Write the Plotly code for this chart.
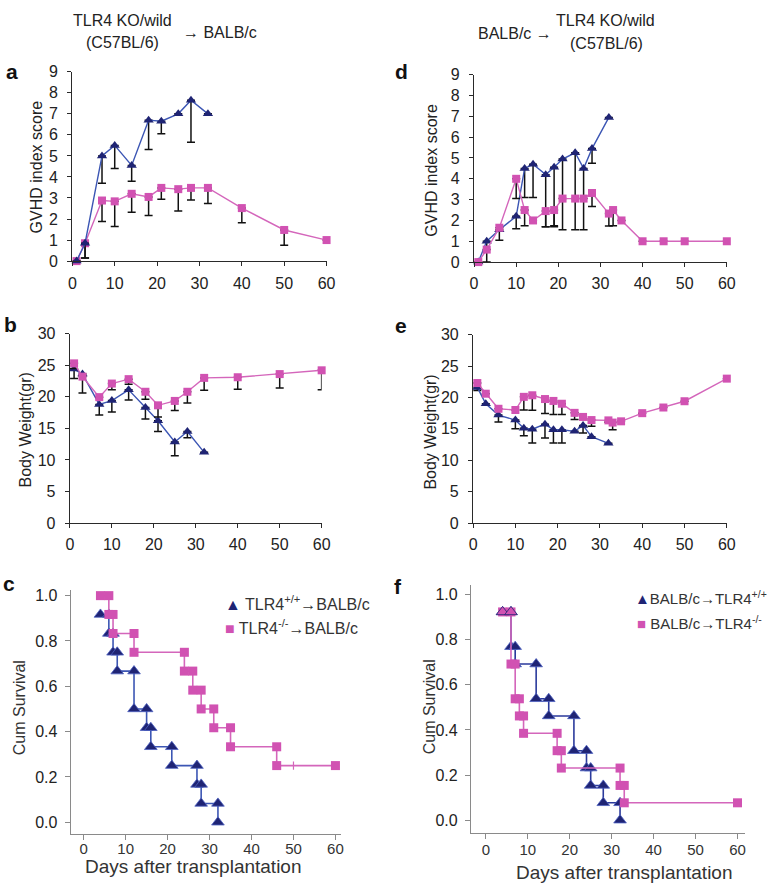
import plotly.graph_objects as go

# ---------------- data ----------------
# Panel a: GVHD index score, TLR4 KO/wild (C57BL/6) -> BALB/c
a_days_wt = [1, 3, 7, 10, 14, 18, 21, 25, 28, 32]
a_score_wt = [0, 0.85, 5.0, 5.5, 4.55, 6.7, 6.65, 7.0, 7.65, 7.0]
a_err_wt = [0, 0.7, 1.3, 1.1, 0.75, 1.4, 0.6, 0, 2.0, 0]
a_days_ko = [1, 3, 7, 10, 14, 18, 21, 25, 28, 32, 40, 50, 60]
a_score_ko = [0, 0.85, 2.88, 2.84, 3.2, 3.05, 3.48, 3.42, 3.48, 3.48, 2.52, 1.48, 1.0]
a_err_ko = [0, 0.7, 1.0, 1.2, 0.88, 0.88, 0.54, 1.04, 0.58, 0.74, 0.7, 0.73, 0]

# Panel b: body weight
b_days_wt = [1, 3, 7, 10, 14, 18, 21, 25, 28, 32]
b_wt_wt = [24.4, 23.6, 18.8, 19.4, 21.1, 18.3, 16.2, 12.85, 14.5, 11.2]
b_err_wt = [1.5, 0, 1.7, 1.8, 1.6, 1.8, 1.7, 2.2, 1.0, 0]
b_days_ko = [1, 3, 7, 10, 14, 18, 21, 25, 28, 32, 40, 50, 60]
b_wt_ko = [25.3, 23.2, 19.95, 22.1, 22.8, 20.8, 18.65, 19.35, 20.8, 23.0, 23.1, 23.6, 24.2]
b_err_ko = [0.8, 2.6, 0, 1.0, 0.8, 1.2, 1.85, 1.5, 1.8, 1.95, 1.9, 2.2, 3.1]

# Panel d: GVHD index score, BALB/c -> TLR4 KO/wild (C57BL/6)
d_days_wt = [1, 3, 6, 10, 12, 14, 17, 19, 21, 24, 26, 28, 32]
d_score_wt = [0, 1.0, 1.55, 2.2, 4.5, 4.7, 4.2, 4.55, 4.95, 5.25, 4.5, 5.45, 6.95]
d_err_wt = [0, 1.0, 0.5, 0.6, 1.4, 1.6, 2.5, 2.85, 3.4, 3.7, 2.95, 0.7, 0]
d_days_ko = [1, 3, 6, 10, 12, 14, 17, 19, 21, 24, 26, 28, 32, 33, 35, 40, 45, 50, 60]
d_score_ko = [0, 0.6, 1.65, 4.0, 2.5, 2.0, 2.45, 2.5, 3.05, 3.05, 3.05, 3.32, 2.33, 2.5, 2.0, 1.0, 1.0, 1.0, 1.0]
d_err_ko = [0, 0, 0, 0.95, 0.75, 0, 0.75, 0.75, 0, 0, 0, 0.65, 0.6, 0.75, 0, 0, 0, 0, 0]

# Panel e: body weight
e_days_wt = [1, 3, 6, 10, 12, 14, 17, 19, 21, 24, 26, 28, 32]
e_wt_wt = [21.6, 19.0, 17.2, 16.4, 15.1, 14.95, 15.75, 14.85, 14.85, 14.6, 15.55, 13.75, 12.7]
e_err_wt = [0.5, 0, 1.1, 1.4, 1.2, 2.2, 2.2, 2.1, 2.1, 0, 1.2, 0, 0]
e_days_ko = [1, 3, 6, 10, 12, 14, 17, 19, 21, 24, 26, 28, 32, 33, 35, 40, 45, 50, 60]
e_wt_ko = [22.3, 20.6, 18.2, 18.0, 20.1, 20.35, 19.75, 19.45, 19.0, 17.55, 16.9, 16.4, 16.35, 16.0, 16.2, 17.5, 18.4, 19.4, 23.0]
e_err_ko = [0, 0, 0, 0, 2.1, 2.4, 2.3, 2.15, 1.7, 1.05, 0, 1.0, 0.3, 1.15, 0, 0, 0, 0, 0]

# Panel c: Kaplan-Meier (event times and survival after each event)
c_times_wt = [4, 6, 7, 8, 12, 15, 16, 21, 27, 28, 32]
c_surv_wt = [0.917, 0.833, 0.75, 0.667, 0.5, 0.417, 0.333, 0.25, 0.167, 0.083, 0.0]
c_times_ko = [4, 6, 7, 12, 24, 26, 28, 31, 35, 46]
c_surv_ko = [1.0, 0.917, 0.833, 0.75, 0.667, 0.583, 0.5, 0.417, 0.333, 0.25]
c_end_ko = 60
c_censor_ko = [50]

# Panel f: Kaplan-Meier
f_times_wt = [4, 6, 7, 12, 15, 21, 24, 25, 28, 32]
f_surv_wt = [0.923, 0.769, 0.692, 0.538, 0.462, 0.308, 0.231, 0.154, 0.077, 0.0]
f_times_ko = [4, 6, 7, 8, 9, 17, 18, 32, 33]
f_surv_ko = [0.923, 0.692, 0.538, 0.462, 0.385, 0.308, 0.231, 0.154, 0.077]
f_end_ko = 60

day_ticks = [0, 10, 20, 30, 40, 50, 60]
score_ticks = list(range(0, 10))
weight_ticks = [0, 5, 10, 15, 20, 25, 30]
surv_ticks = [0.0, 0.2, 0.4, 0.6, 0.8, 1.0]

# ---------------- style ----------------
W, H = 784, 896
FONT = "Liberation Sans, Arial, sans-serif"
BLUE_M = "#1f2474"
BLUE_L = "#3c56b4"
PINK_M = "#d152b2"
PINK_L = "#d466bb"


def px_x(p):
    return p / W


def px_y(p):
    return 1 - p / H


def km_vertices(times, surv, end=None):
    xs, ys = [times[0]], [surv[0]]
    for i in range(1, len(times)):
        xs += [times[i], times[i]]
        ys += [surv[i - 1], surv[i]]
    if end is not None:
        xs.append(end)
        ys.append(surv[-1])
    return xs, ys


fig = go.Figure()


def err(vals):
    return dict(type="data", symmetric=False, array=[0] * len(vals), arrayminus=vals,
                color="#111111", thickness=1.5, width=4)


def add_series(x, y, e, axis, color_l, color_m, symbol, size):
    fig.add_trace(go.Scatter(
        x=x, y=y, mode="lines+markers", xaxis="x" + axis, yaxis="y" + axis,
        line=dict(color=color_l, width=1.4),
        marker=dict(symbol=symbol, size=size, color=color_m),
        error_y=err(e), cliponaxis=False, showlegend=False, hoverinfo="skip"))


# a
add_series(a_days_ko, a_score_ko, a_err_ko, "", PINK_L, PINK_M, "square", 8)
add_series(a_days_wt, a_score_wt, a_err_wt, "", BLUE_L, BLUE_M, "triangle-up", 9)
# b
add_series(b_days_wt, b_wt_wt, b_err_wt, "2", BLUE_L, BLUE_M, "triangle-up", 9)
add_series(b_days_ko, b_wt_ko, b_err_ko, "2", PINK_L, PINK_M, "square", 8)
# d
add_series(d_days_wt, d_score_wt, d_err_wt, "4", BLUE_L, BLUE_M, "triangle-up", 9)
add_series(d_days_ko, d_score_ko, d_err_ko, "4", PINK_L, PINK_M, "square", 8)
# e
add_series(e_days_wt, e_wt_wt, e_err_wt, "5", BLUE_L, BLUE_M, "triangle-up", 9)
add_series(e_days_ko, e_wt_ko, e_err_ko, "5", PINK_L, PINK_M, "square", 8)

# c
xs, ys = km_vertices(c_times_wt, c_surv_wt)
fig.add_trace(go.Scatter(x=xs, y=ys, mode="lines+markers", xaxis="x3", yaxis="y3",
                         line=dict(color=BLUE_L, width=1.6),
                         marker=dict(symbol="triangle-up", size=11, color=BLUE_M,
                                     line=dict(color="#4b5fc0", width=0.8)),
                         cliponaxis=False, showlegend=False, hoverinfo="skip"))
xs, ys = km_vertices(c_times_ko, c_surv_ko, c_end_ko)
fig.add_trace(go.Scatter(x=xs, y=ys, mode="lines+markers", xaxis="x3", yaxis="y3",
                         line=dict(color=PINK_L, width=1.6),
                         marker=dict(symbol="square", size=9, color=PINK_M),
                         cliponaxis=False, showlegend=False, hoverinfo="skip"))
fig.add_trace(go.Scatter(x=c_censor_ko, y=[c_surv_ko[-1]] * len(c_censor_ko), mode="markers",
                         xaxis="x3", yaxis="y3",
                         marker=dict(symbol="line-ns-open", size=6, color=PINK_L,
                                     line=dict(width=1.2, color=PINK_L)),
                         showlegend=False, hoverinfo="skip"))

# f
xs, ys = km_vertices(f_times_wt, f_surv_wt)
fig.add_trace(go.Scatter(x=xs, y=ys, mode="lines+markers", xaxis="x6", yaxis="y6",
                         line=dict(color="#2b3a9c", width=1.6),
                         marker=dict(symbol="triangle-up", size=11, color=BLUE_M,
                                     line=dict(color="#4b5fc0", width=0.8)),
                         cliponaxis=False, showlegend=False, hoverinfo="skip"))
xs, ys = km_vertices(f_times_ko, f_surv_ko, f_end_ko)
fig.add_trace(go.Scatter(x=xs, y=ys, mode="lines+markers", xaxis="x6", yaxis="y6",
                         line=dict(color=PINK_L, width=1.6),
                         marker=dict(symbol="square", size=9, color=PINK_M),
                         cliponaxis=False, showlegend=False, hoverinfo="skip"))
# the first two pink points are drawn as triangles in the original figure
fig.add_trace(go.Scatter(x=xs[:2], y=ys[:2], mode="markers", xaxis="x6", yaxis="y6",
                         marker=dict(symbol="triangle-up", size=11, color=PINK_M,
                                     line=dict(color=BLUE_M, width=0.8)),
                         cliponaxis=False, showlegend=False, hoverinfo="skip"))


# ---------------- axes ----------------
def ax_common(dark=True):
    col = "#2a2a2a" if dark else "#8a8a8a"
    return dict(showline=True, linecolor=col, linewidth=1.4, ticks="outside", ticklen=4,
                tickwidth=1.2, tickcolor=col, showgrid=False, zeroline=False, mirror=False,
                tickfont=dict(family=FONT, size=16, color="#222222"), fixedrange=True)


layout = dict(width=W, height=H, margin=dict(l=0, r=0, t=0, b=0), autosize=False,
              paper_bgcolor="white", plot_bgcolor="white", showlegend=False)

layout["xaxis"] = dict(ax_common(), domain=[px_x(69.5), px_x(328)], range=[0, 60],
                       tickvals=day_ticks, anchor="y", ticklabelstandoff=3)
layout["yaxis"] = dict(ax_common(), domain=[px_y(258), px_y(65)], range=[0, 9],
                       tickvals=score_ticks, anchor="x", ticklabelstandoff=6)
layout["xaxis2"] = dict(ax_common(), domain=[px_x(67), px_x(323)], range=[0, 60],
                        tickvals=day_ticks, anchor="y2", ticklabelstandoff=3)
layout["yaxis2"] = dict(ax_common(), domain=[px_y(525), px_y(332)], range=[0, 30],
                        tickvals=weight_ticks, anchor="x2", ticklabelstandoff=6)
layout["xaxis3"] = dict(ax_common(False), domain=[px_x(68), px_x(343)], range=[-3.05, 61.4],
                        tickvals=day_ticks, anchor="y3", ticklen=5, ticklabelstandoff=-4,
                        tickfont=dict(family=FONT, size=15, color="#333333"))
layout["yaxis3"] = dict(ax_common(False), domain=[px_y(842), px_y(593)], range=[-0.052, 1.026],
                        tickvals=surv_ticks, tickformat=".1f", anchor="x3", ticklen=5,
                        ticklabelstandoff=4)
layout["xaxis4"] = dict(ax_common(), domain=[px_x(478), px_x(735)], range=[0, 60],
                        tickvals=day_ticks, anchor="y4", ticklabelstandoff=3)
layout["yaxis4"] = dict(ax_common(), domain=[px_y(259), px_y(68)], range=[0, 9],
                        tickvals=score_ticks, anchor="x4", ticklabelstandoff=6)
layout["xaxis5"] = dict(ax_common(), domain=[px_x(477), px_x(735)], range=[0, 60],
                        tickvals=day_ticks, anchor="y5", ticklabelstandoff=3)
layout["yaxis5"] = dict(ax_common(), domain=[px_y(525), px_y(333)], range=[0, 30],
                        tickvals=weight_ticks, anchor="x5", ticklabelstandoff=6)
layout["xaxis6"] = dict(ax_common(False), domain=[px_x(475), px_x(754)], range=[-3.5, 61.9],
                        tickvals=day_ticks, anchor="y6", ticklen=5, ticklabelstandoff=-2,
                        tickfont=dict(family=FONT, size=15, color="#333333"))
layout["yaxis6"] = dict(ax_common(False), domain=[px_y(841), px_y(588)], range=[-0.057, 1.043],
                        tickvals=surv_ticks, tickformat=".1f", anchor="x6", ticklen=5,
                        ticklabelstandoff=4)

fig.update_layout(**layout)


# ---------------- annotations ----------------
def note(text, x, y, size=16, angle=0, bold=False, color="#222222", xanchor="center"):
    if bold:
        text = "<b>" + text + "</b>"
    fig.add_annotation(text=text, x=px_x(x), y=px_y(y), xref="paper", yref="paper",
                       showarrow=False, textangle=angle, xanchor=xanchor, yanchor="middle",
                       font=dict(family=FONT, size=size, color=color))


# headers
note("TLR4 KO/wild", 120, 13)
note("(C57BL/6)", 121, 35)
note("→ BALB/c", 220, 25)
note("BALB/c →", 520, 26)
note("TLR4 KO/wild", 612, 13)
note("(C57BL/6)", 613, 36)

# panel letters
note("a", 8, 65, size=21, bold=True, color="#111111")
note("d", 404, 65, size=21, bold=True, color="#111111")
note("b", 7, 323, size=21, bold=True, color="#111111")
note("e", 404, 324, size=21, bold=True, color="#111111")
note("c", 5, 587, size=21, bold=True, color="#111111")
note("f", 401, 590, size=21, bold=True, color="#111111")

# axis titles
note("GVHD index score", 33, 162, angle=-90)
note("GVHD index score", 435, 165, angle=-90)
note("Body Weight(gr)", 22, 430, angle=-90)
note("Body Weight(gr)", 434, 432, angle=-90)
note("Cum Survival", 16, 713, angle=-90, color="#333333")
note("Cum Survival", 433, 712, angle=-90, color="#333333")
note("Days after transplantation", 193, 875, size=19, color="#333333")
note("Days after transplantation", 631, 881, size=19, color="#333333")

# legends
note('<span style="color:%s">▲</span> TLR4<sup>+/+</sup>→BALB/c' % BLUE_M, 223, 606,
     xanchor="left", color="#333333")
note('<span style="color:%s">■</span> TLR4<sup>-/-</sup>→BALB/c' % PINK_M, 223, 631,
     xanchor="left", color="#333333")
note('<span style="color:%s">▲</span>BALB/c→TLR4<sup>+/+</sup>' % BLUE_M, 640, 601,
     size=15, xanchor="left", color="#333333")
note('<span style="color:%s">■</span> BALB/c→TLR4<sup>-/-</sup>' % PINK_M, 642, 626,
     size=15, xanchor="left", color="#333333")

fig.write_html(
    "out.html",
    config={"displayModeBar": False, "responsive": False},
    post_script="document.body.style.margin='0';"
                "document.body.style.overflow='hidden';"
                "document.documentElement.style.overflow='hidden';",
)
